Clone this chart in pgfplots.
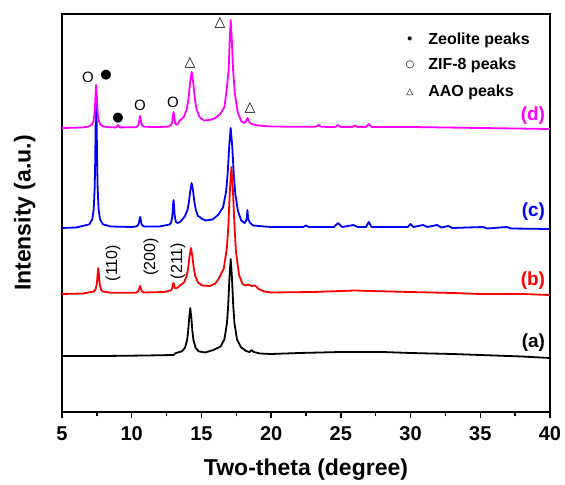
\documentclass[border=0pt]{standalone}
\usepackage{pgfplots}
\pgfplotsset{compat=1.18}
\usepackage{fontspec}
\setmainfont{Liberation Sans}
\newfontfamily\sym{DejaVu Sans}
\usetikzlibrary{calc}
\definecolor{mag}{RGB}{255,0,255}
\definecolor{blu}{RGB}{0,0,255}
\definecolor{rd}{RGB}{255,0,0}
\begin{document}
\begin{tikzpicture}
\begin{axis}[
  scale only axis, width=488bp, height=398bp,
  xmin=5, xmax=40, ymin=0, ymax=398,
  axis line style={line width=1.6bp},
  xtick={5,10,...,40}, minor xtick={7.5,12.5,...,37.5},
  xtick pos=bottom, tick align=outside, ytick=\empty,
  major tick length=6bp, minor tick length=4bp,
  tick style={line width=1.4bp, black},
  xticklabel style={font=\fontsize{20bp}{24bp}\selectfont\bfseries, yshift=-5bp},
  /pgf/number format/assume math mode=true,
  xlabel={Two-theta (degree)}, ylabel={Intensity (a.u.)},
  xlabel style={font=\fontsize{23bp}{27bp}\selectfont\bfseries, yshift=-11bp},
  ylabel style={font=\fontsize{23bp}{27bp}\selectfont\bfseries, yshift=17bp},
  every axis plot/.append style={line width=1.8bp, no marks, line join=round},
  clip=false,
]
% (a)
\addplot[black] coordinates {(5,56) (8,56) (11,56.5) (13,57) (13.15,58.9) (13.6,60.7) (13.825,64.3) (13.975,72.2) (14.05,81) (14.125,94.8) (14.2,104) (14.275,94.8) (14.35,81) (14.425,72.2) (14.575,64.3) (14.8,60.7) (15.25,59.5) (15.84,61.9) (16.38,65.5) (16.65,72.8) (16.83,88.6) (16.92,106.5) (17.01,134.4) (17.1,153) (17.19,134.4) (17.28,106.5) (17.37,88.6) (17.55,72.8) (17.82,65) (18.2,61) (18.45,60) (18.6,62) (18.75,60) (19.2,58.5) (20,58) (22,59) (25,60) (28,60) (30,59) (33,58) (35,57) (38,55.5) (40,54)};
% (b)
\addplot[rd] coordinates {(5,118) (6.5,118.5) (7.28,120.5) (7.4,122.4) (7.48,126.7) (7.52,131.5) (7.56,139) (7.6,144) (7.64,139) (7.68,131.5) (7.72,126.7) (7.8,122.4) (7.92,120.5) (8.5,119.2) (10.3,119.3) (10.46,120.5) (10.52,122.5) (10.56,124.6) (10.6,126) (10.64,124.6) (10.68,122.5) (10.74,120.5) (10.9,119.5) (12.3,120) (12.8,121.5) (12.88,123) (12.92,125) (12.96,128) (13.0,129) (13.04,127) (13.08,124.5) (13.15,123.5) (13.3,124.5) (13.45,126.4) (13.75,129.5) (13.95,136.3) (14.05,144) (14.15,156) (14.25,164) (14.35,156) (14.45,144) (14.55,136.3) (14.75,129.5) (15.05,126.5) (15.6,126) (16.0,128.5) (16.27,134) (16.6,143.3) (16.82,163.3) (16.93,186) (17.04,221.4) (17.15,245) (17.26,221.4) (17.37,186) (17.48,160) (17.7,137) (17.95,128) (18.15,126.5) (18.35,127.5) (18.6,126) (18.85,126.5) (19.1,123) (19.5,120.5) (20,119.5) (23,120) (25,121) (26,121.5) (27,121) (30,120) (33,119) (35,118) (38,118) (40,117)};
% (c)
\addplot[blu] coordinates {(5,184) (6,184.5) (6.96,187.6) (7.17,192.6) (7.275,202.8) (7.345,224.7) (7.38,249.5) (7.415,288.2) (7.45,314) (7.485,288.2) (7.52,249.5) (7.555,224.7) (7.625,202.8) (7.73,192.6) (7.94,187.6) (8.5,185.5) (10,185) (10.3,185.5) (10.425,186.4) (10.495,188) (10.53,190) (10.565,193) (10.6,195) (10.635,193) (10.67,190) (10.705,188) (10.775,186.4) (10.9,185.5) (12.0,185.5) (12.72,187.5) (12.825,189.6) (12.895,194) (12.93,199) (12.965,206.8) (13.0,212) (13.035,206.8) (13.07,199) (13.105,194) (13.175,190) (13.3,189) (13.5,190.5) (13.8,195.4) (14.0,202) (14.1,209.5) (14.2,221.2) (14.3,229) (14.4,221.2) (14.5,209.5) (14.6,202) (14.75,196) (14.88,195) (15.0,193.5) (15.3,191.5) (15.8,192.5) (16.22,197.4) (16.55,204.7) (16.77,220.3) (16.88,238) (16.99,265.6) (17.1,284) (17.21,265.6) (17.32,238) (17.43,218) (17.62,201) (17.85,191.5) (18.1,189) (18.22,192) (18.26,195) (18.3,202) (18.34,195) (18.38,192) (18.5,189) (18.7,186.5) (19.5,185.5) (20,185) (22.3,185) (22.5,186.5) (22.7,185) (24.5,185) (24.8,189) (25.1,185) (25.9,187) (26.2,185) (26.8,185) (27.0,190) (27.2,185) (29.8,185) (30.0,188) (30.2,185) (30.9,187) (31.2,185) (31.9,187) (32.2,184.5) (32.7,186) (33,184) (35.2,185) (35.5,183.5) (36.9,185) (37.2,183.5) (40,183)};
% (d)
\addplot[mag] coordinates {(5,284) (6,284.3) (6.5,284.6) (6.89,285.4) (7.13,287) (7.25,290.4) (7.33,297.7) (7.37,306) (7.41,318.9) (7.45,327) (7.49,318.9) (7.53,306) (7.57,297.7) (7.65,290.4) (7.77,287) (8.01,285.4) (8.5,284.7) (8.88,284.6) (8.97,286) (9.02,287) (9.07,286) (9.16,284.6) (10.3,284.8) (10.42,285.9) (10.5,288) (10.53,290.3) (10.565,293.7) (10.6,296) (10.635,293.7) (10.67,290.3) (10.7,288) (10.78,286.1) (10.9,285.2) (12.0,285) (12.6,285.4) (12.7,285.8) (12.82,287) (12.9,289.6) (12.93,292.5) (12.965,297) (13.0,300) (13.035,297) (13.07,292.5) (13.1,289.6) (13.18,287.5) (13.3,287.5) (13.42,291) (13.75,295.2) (13.97,304) (14.08,314) (14.19,329.6) (14.3,340) (14.41,329.6) (14.52,314) (14.63,304) (14.85,295.2) (15.18,291.5) (15.6,292) (16.0,294) (16.35,298) (16.65,305) (16.8,321) (16.95,342) (17.03,372) (17.1,392) (17.18,372) (17.27,342) (17.4,318) (17.6,300) (17.85,291) (18.05,289) (18.18,290) (18.25,292.5) (18.3,294) (18.35,292.5) (18.45,289.5) (18.6,288) (18.9,286.8) (19.5,286) (20,285.5) (22,285.2) (23.2,285.2) (23.4,287) (23.6,285.2) (24.6,285) (24.8,287) (25,285) (25.8,285) (26,286.5) (26.2,285) (26.8,285) (27.0,288) (27.2,285) (30,285) (35,284) (40,283)};
% annotations
\node[font=\fontsize{15bp}{18bp}\selectfont] at (axis cs:6.87,335) {O};
\node[font=\fontsize{13bp}{16bp}\selectfont\sym] at (axis cs:8.16,337) {●};
\node[font=\fontsize{13bp}{16bp}\selectfont\sym] at (axis cs:9.02,294) {●};
\node[font=\fontsize{15bp}{18bp}\selectfont] at (axis cs:10.6,307) {O};
\node[font=\fontsize{15bp}{18bp}\selectfont] at (axis cs:12.96,310) {O};
\node[font=\fontsize{14bp}{17bp}\selectfont\sym] at (axis cs:14.18,349) {△};
\node[font=\fontsize{14bp}{17bp}\selectfont\sym] at (axis cs:16.33,389) {△};
\node[font=\fontsize{14bp}{17bp}\selectfont\sym] at (axis cs:18.49,304) {△};
\node[rotate=90, font=\fontsize{16bp}{19bp}\selectfont] at (axis cs:8.66,149) {(110)};
\node[rotate=90, font=\fontsize{16bp}{19bp}\selectfont] at (axis cs:11.38,155) {(200)};
\node[rotate=90, font=\fontsize{16bp}{19bp}\selectfont] at (axis cs:13.32,151) {(211)};
% legend
\node[font=\fontsize{14bp}{17bp}\selectfont\bfseries] at (axis cs:29.95,372) {•};
\node[font=\fontsize{10bp}{12bp}\selectfont\sym] at (axis cs:29.95,347) {○};
\node[font=\fontsize{9bp}{11bp}\selectfont\sym] at (axis cs:29.95,320) {△};
\node[anchor=west, font=\fontsize{16bp}{19bp}\selectfont\bfseries, inner sep=0pt] at (axis cs:31.26,372) {Zeolite peaks};
\node[anchor=west, font=\fontsize{16bp}{19bp}\selectfont\bfseries, inner sep=0pt] at (axis cs:31.26,347) {ZIF-8 peaks};
\node[anchor=west, font=\fontsize{16bp}{19bp}\selectfont\bfseries, inner sep=0pt] at (axis cs:31.26,320) {AAO peaks};
% curve labels
\node[anchor=east, inner sep=0pt, text=mag, font=\fontsize{19bp}{22bp}\selectfont\bfseries] at (axis cs:39.66,296) {(d)};
\node[anchor=east, inner sep=0pt, text=blu, font=\fontsize{19bp}{22bp}\selectfont\bfseries] at (axis cs:39.66,200) {(c)};
\node[anchor=east, inner sep=0pt, text=rd, font=\fontsize{19bp}{22bp}\selectfont\bfseries] at (axis cs:39.66,131) {(b)};
\node[anchor=east, inner sep=0pt, text=black, font=\fontsize{19bp}{22bp}\selectfont\bfseries] at (axis cs:39.66,69) {(a)};
\end{axis}
\pgfresetboundingbox
\useasboundingbox ($(current axis.south west)+(-62bp,-73bp)$) rectangle ($(current axis.north east)+(15bp,14bp)$);
\end{tikzpicture}
\end{document}
